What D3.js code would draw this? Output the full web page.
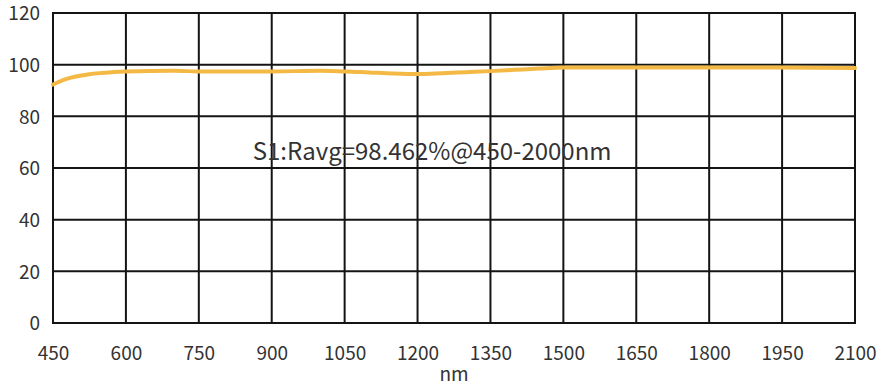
<!DOCTYPE html>
<html>
<head>
<meta charset="utf-8">
<script src="https://cdn.jsdelivr.net/npm/d3@7"></script>
<style>
  html, body { margin: 0; padding: 0; background: #fff; }
  svg { display: block; }
</style>
</head>
<body>
<svg id="chart"></svg>
<script>
// wavelength (nm) and reflectance (%)
const wavelength = [450, 475, 500, 525, 550, 575, 600, 700, 750, 900, 1000, 1050, 1100, 1150, 1200, 1250, 1300, 1350, 1400, 1450, 1500, 1650, 1800, 1950, 2100];
const reflectance = [92.3, 94.3, 95.5, 96.3, 96.8, 97.2, 97.4, 97.6, 97.4, 97.4, 97.6, 97.4, 97.0, 96.6, 96.4, 96.7, 97.1, 97.5, 98.0, 98.5, 98.9, 98.9, 98.9, 98.9, 98.7];
const xTicks = [450, 600, 750, 900, 1050, 1200, 1350, 1500, 1650, 1800, 1950, 2100];
const yTicks = [0, 20, 40, 60, 80, 100, 120];
const xLabel = "nm";
const note = "S1:Ravg=98.462%@450-2000nm";

const width = 887, height = 388;
const margin = { top: 13, right: 32, bottom: 65, left: 53 };
const font = "'Noto Sans CJK SC', 'Noto Sans', sans-serif";

const svg = d3.select("#chart")
  .attr("width", width)
  .attr("height", height);

const x = d3.scaleLinear()
  .domain([450, 2100])
  .range([margin.left, width - margin.right]);

const y = d3.scaleLinear()
  .domain([0, 120])
  .range([height - margin.bottom, margin.top]);

// grid
const grid = svg.append("g").attr("stroke", "#141414").attr("stroke-width", 2);
grid.selectAll("line.v")
  .data(xTicks)
  .join("line")
  .attr("class", "v")
  .attr("x1", d => x(d)).attr("x2", d => x(d))
  .attr("y1", y(120)).attr("y2", y(0));
grid.selectAll("line.h")
  .data(yTicks)
  .join("line")
  .attr("class", "h")
  .attr("x1", x(450) - 1).attr("x2", x(2100) + 1)
  .attr("y1", d => y(d)).attr("y2", d => y(d));

// axes (labels only)
const xAxis = svg.append("g")
  .attr("transform", `translate(0,${y(0)})`)
  .call(d3.axisBottom(x).tickValues(xTicks).tickFormat(d3.format("d")).tickSize(0).tickPadding(24));
const yAxis = svg.append("g")
  .attr("transform", `translate(${x(450)},0)`)
  .call(d3.axisLeft(y).tickValues(yTicks).tickFormat(d3.format("d")).tickSize(0).tickPadding(13));

[xAxis, yAxis].forEach(g => {
  g.select(".domain").remove();
  g.selectAll("text")
    .attr("fill", "#333")
    .style("font-family", font)
    .style("font-size", "19px");
});
yAxis.selectAll("text").attr("dy", "0.36em");

// curve
const line = d3.line()
  .x((d, i) => x(wavelength[i]))
  .y(d => y(d))
  .curve(d3.curveMonotoneX);

svg.append("path")
  .datum(reflectance)
  .attr("fill", "none")
  .attr("stroke", "#F4B944")
  .attr("stroke-width", 4)
  .attr("stroke-linecap", "round")
  .attr("d", line);

// annotation
svg.append("text")
  .attr("x", x(1230))
  .attr("y", y(63))
  .attr("text-anchor", "middle")
  .attr("fill", "#333")
  .style("font-family", font)
  .style("font-size", "24px")
  .text(note);

svg.append("text")
  .attr("x", (x(450) + x(2100)) / 2)
  .attr("y", 381)
  .attr("text-anchor", "middle")
  .attr("fill", "#333")
  .style("font-family", font)
  .style("font-size", "19px")
  .text(xLabel);
</script>
</body>
</html>
